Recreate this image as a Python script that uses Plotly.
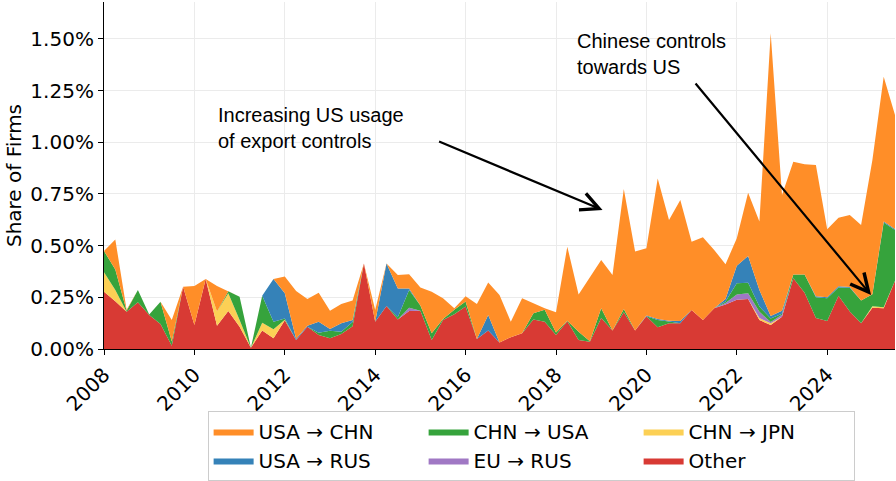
import plotly.graph_objects as go

# Quarterly periods 2008Q1 .. 2025Q3
years = list(range(2008, 2026))
quarters = [(y, q) for y in years for q in range(1, 5)][:71]
x_vals = [y + (q - 1) / 4 for (y, q) in quarters]

# Share of firms (%) by export-control corridor
other = [.277, .231, .180, .226, .164, .121, .016, .301, .116, .338,
         .113, .184, .108, .006, .089, .052, .139, .044, .108, .068,
         .052, .073, .110, .414, .132, .208, .143, .184, .185, .044,
         .140, .168, .205, .048, .089, .031, .057, .076, .143, .132,
         .068, .134, .044, .035, .150, .089, .178, .089, .158, .105,
         .124, .125, .189, .140, .197, .215, .238, .242, .140, .116,
         .156, .342, .272, .150, .136, .257, .181, .125, .199, .197,
         .330]

chn_jpn = [.094, .054, 0, 0, 0, 0, 0, 0, 0, 0,
           .068, .085, .032, 0, .038, .043, .003, 0, 0, 0,
           0, 0, 0, 0, 0, 0, 0, 0, 0, 0,
           0, 0, 0, 0, 0, 0, 0, 0, 0, 0,
           0, 0, 0, 0, 0, 0, 0, 0, 0, 0,
           0, 0, 0, 0, 0, 0, 0, 0, .010, .008,
           0, 0, 0, 0, 0, 0, 0, 0, .008, .005,
           0]

eu_rus = [0, 0, 0, 0, 0, 0, 0, 0, 0, 0,
          0, 0, 0, 0, 0, 0, 0, 0, 0, 0,
          0, 0, 0, 0, 0, 0, 0, .015, 0, 0,
          0, 0, 0, 0, 0, 0, 0, 0, 0, 0,
          0, 0, 0, 0, 0, 0, 0, 0, 0, 0,
          0, 0, 0, 0, 0, .007, .026, .027, .030, .006,
          .010, 0, 0, 0, 0, 0, 0, 0, 0, 0,
          0]

chn_usa = [.103, .100, .005, .059, .003, .108, .020, 0, 0, 0,
           0, .010, .113, 0, .131, .037, .005, 0, 0, .010,
           .036, .011, .020, 0, 0, 0, .010, .086, .025, .032,
           .005, .022, .025, 0, 0, 0, 0, 0, .030, .058,
           .012, .003, .040, .003, .047, 0, .015, 0, 0, .035,
           .009, 0, 0, 0, 0, .008, .054, .051, .025, .018,
           .005, .018, .088, .100, .110, .040, .115, .110, .058, .410,
           .245]

usa_rus = [0, 0, 0, 0, 0, 0, 0, 0, 0, 0,
           0, 0, 0, 0, 0, .206, .122, .005, .004, .054,
           .009, .040, .010, 0, 0, .206, .140, .008, 0, 0,
           0, 0, 0, 0, .075, 0, 0, 0, 0, 0,
           0, 0, 0, 0, 0, 0, 0, 0, .004, .005,
           .004, .010, 0, 0, 0, .012, .084, .130, .080, .012,
           .014, 0, 0, .005, .004, .006, .004, 0, 0, .005,
           .005]

usa_chn = [0, .145, .005, 0, 0, 0, .104, 0, .189, 0,
           .124, 0, 0, 0, 0, 0, .081, .231, .130, .140,
           .088, .094, .094, 0, .057, 0, .065, .068, .087, .201,
           .100, .007, .025, .170, .158, .230, .075, .169, .048, .007,
           .098, .358, .180, .312, .233, .269, .581, .382, .325, .680,
           .487, .585, .330, .400, .282, .168, .133, .306, .331, 1.367,
           .560, .546, .533, .635, .329, .332, .348, .365, .649, .700,
           .552]

x_ticks = [2008, 2010, 2012, 2014, 2016, 2018, 2020, 2022, 2024]
x_ticktext = [str(t) for t in x_ticks]
y_ticks = [0, 0.25, 0.5, 0.75, 1.0, 1.25, 1.5]
y_ticktext = ["0.00%", "0.25%", "0.50%", "0.75%", "1.00%", "1.25%", "1.50%"]

# stacking order bottom -> top, with legend rank
series = [
    ("Other", other, "rgb(216,58,52)", 6),
    ("CHN → JPN", chn_jpn, "rgb(252,208,85)", 3),
    ("EU → RUS", eu_rus, "rgb(160,120,196)", 5),
    ("CHN → USA", chn_usa, "rgb(54,163,60)", 2),
    ("USA → RUS", usa_rus, "rgb(53,130,184)", 4),
    ("USA → CHN", usa_chn, "rgb(255,142,40)", 1),
]

fig = go.Figure()
for name, vals, color, rank in series:
    fig.add_trace(go.Scatter(
        x=x_vals, y=vals, name=name, stackgroup="one", mode="lines",
        line=dict(width=0, color=color), fillcolor=color, legendrank=rank,
    ))

FONT = "DejaVu Sans"
fig.update_layout(
    width=896, height=481,
    margin=dict(l=104, r=1, t=2, b=132, autoexpand=False),
    paper_bgcolor="white", plot_bgcolor="white",
    font=dict(family=FONT, size=20, color="black"),
    showlegend=True,
    legend=dict(
        orientation="h", x=0.131, xanchor="left", y=-0.179, yanchor="top",
        traceorder="normal", bordercolor="#cccccc", borderwidth=1,
        font=dict(family=FONT, size=20, color="black"),
        entrywidth=160, itemwidth=40,
    ),
    xaxis=dict(
        range=[2008, 2025.5], tickvals=x_ticks, ticktext=x_ticktext,
        tickangle=-45, showgrid=True, gridcolor="#ebebeb", gridwidth=1,
        showline=True, linecolor="black", linewidth=1.2, ticks="outside",
        ticklen=5, tickcolor="black", zeroline=False, automargin=False,
        tickfont=dict(family=FONT, size=20, color="black"),
    ),
    yaxis=dict(
        range=[0, 1.678], tickvals=y_ticks, ticktext=y_ticktext,
        showgrid=True, gridcolor="#ebebeb", gridwidth=1,
        showline=True, linecolor="black", linewidth=1.2, ticks="outside",
        ticklen=5, tickcolor="black", zeroline=False, automargin=False,
        tickfont=dict(family=FONT, size=20, color="black"),
        title=dict(text="Share of Firms", standoff=3,
                   font=dict(family=FONT, size=20, color="black")),
    ),
)

ANN_FONT = dict(family="Liberation Sans", size=20, color="black")
fig.add_annotation(x=2010.47, y=1.071, xref="x", yref="y",
                   text="Increasing US usage<br>of export controls",
                   showarrow=False, xanchor="left", yanchor="middle",
                   align="left", font=ANN_FONT)
fig.add_annotation(x=2018.41, y=1.426, xref="x", yref="y",
                   text="Chinese controls<br>towards US",
                   showarrow=False, xanchor="left", yanchor="middle",
                   align="left", font=ANN_FONT)
fig.add_annotation(x=2019.03, y=0.672, ax=2015.38, ay=1.006,
                   xref="x", yref="y", axref="x", ayref="y", text="",
                   showarrow=True, arrowhead=5, arrowsize=1.6,
                   arrowwidth=2.2, arrowcolor="black")
fig.add_annotation(x=2024.97, y=0.261, ax=2021.06, ay=1.291,
                   xref="x", yref="y", axref="x", ayref="y", text="",
                   showarrow=True, arrowhead=5, arrowsize=1.6,
                   arrowwidth=2.2, arrowcolor="black")

fig.write_html("out.html", config={"displayModeBar": False},
               post_script="document.body.style.margin='0';")
